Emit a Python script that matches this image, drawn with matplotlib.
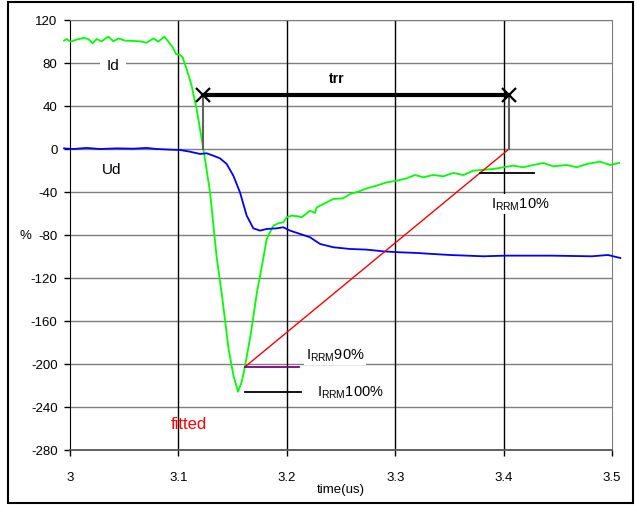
import matplotlib
matplotlib.use('Agg')
import matplotlib.pyplot as plt
from matplotlib.patches import Rectangle

plt.rcParams['font.family'] = ['Liberation Sans', 'DejaVu Sans']
plt.rcParams['mathtext.default'] = 'regular'
plt.rcParams['axes.unicode_minus'] = False

# Id trace (green)
id_t = [2.9945, 2.9969, 3.0006, 3.006, 3.0123, 3.0169, 3.0209, 3.0246, 3.0292, 3.0354,
        3.04, 3.0446, 3.0507, 3.0584, 3.0646, 3.0707, 3.0769, 3.0815, 3.087, 3.0907,
        3.0947, 3.0978, 3.1015, 3.1039, 3.1076, 3.1122, 3.1168, 3.1215, 3.1245, 3.1292,
        3.1353, 3.1406, 3.1463, 3.1508, 3.155, 3.1583, 3.1613, 3.167, 3.1725, 3.1783,
        3.1814, 3.1876, 3.1922, 3.1968, 3.1999, 3.2045, 3.2106, 3.2137, 3.2214, 3.226,
        3.2276, 3.2368, 3.2429, 3.2521, 3.2583, 3.266, 3.2737, 3.2829, 3.2921, 3.3014,
        3.3106, 3.3183, 3.3259, 3.3352, 3.3444, 3.3536, 3.3628, 3.372, 3.3813, 3.3905,
        3.3997, 3.4089, 3.4182, 3.4274, 3.4366, 3.4459, 3.4582, 3.4674, 3.4766, 3.4889,
        3.4982, 3.5065]
id_pct = [100.8, 102.3, 99.9, 101.7, 103.3, 102.3, 98.3, 102.3, 100.2, 104.5,
          100.2, 102.9, 100.8, 100.5, 100.2, 98.9, 102.9, 99.9, 104.5, 99.9,
          94.6, 88.4, 87.4, 85.3, 74.4, 58.9, 37.2, 9.3, -9.3, -40.3,
          -100.7, -139.5, -186, -210.9, -225.7, -217, -203, -170.5, -133, -102,
          -83.7, -71.3, -69.1, -68.2, -63.5, -62, -62.6, -63.5, -57.4, -59.5,
          -54.3, -49.6, -46.5, -45.9, -41.9, -39.7, -36.6, -34.1, -31, -29.5,
          -27.3, -24.2, -26.3, -24.2, -25.4, -22.3, -24.2, -20.2, -19.3, -18.6,
          -17, -15.5, -17, -14.9, -13, -16.1, -14.9, -17, -14, -11.8,
          -14.9, -13]

# Ud trace (blue)
ud_t = [2.9945, 3.0031, 3.0154, 3.0277, 3.043, 3.0584, 3.0707, 3.0799, 3.0922, 3.1015,
        3.1107, 3.1199, 3.126, 3.1322, 3.1384, 3.1445, 3.1507, 3.1568, 3.163, 3.1691,
        3.1753, 3.1814, 3.1906, 3.1968, 3.2029, 3.2122, 3.2214, 3.2306, 3.2429, 3.2583,
        3.2737, 3.289, 3.3044, 3.3198, 3.3352, 3.3506, 3.3659, 3.3813, 3.4022, 3.4437,
        3.4814, 3.4963, 3.5077]
ud_pct = [0.6, 0, 1, 0, 0.6, 0.3, 1, 0, -0.6, -0.9,
          -2.5, -4.6, -4, -6.2, -8.7, -13.9, -24.8, -40.3, -62, -73.8,
          -75.9, -74.4, -73.8, -72.8, -75.9, -79, -82.1, -88.3, -91.4, -93,
          -93.6, -95.2, -96.1, -96.7, -97.7, -98.6, -99.2, -99.8, -99.2, -99.2,
          -99.8, -98.6, -101.4]

# construction lines
fit_t = [3.161, 3.405]
fit_pct = [-203, 0]
trr_t = [3.123, 3.405]
trr_level = 50
irrm10_t = [3.378, 3.428]
irrm10_level = -22.3
irrm90_t = [3.161, 3.211]
irrm90_level = -203
irrm100_t = [3.161, 3.213]
irrm100_level = -226

x_ticks = [3, 3.1, 3.2, 3.3, 3.4, 3.5]
x_labels = ['3', '3.1', '3.2', '3.3', '3.4', '3.5']
y_ticks = list(range(-280, 121, 40))

fig = plt.figure(figsize=(6.37, 5.06), dpi=100)
ax = fig.add_axes([70 / 637, 1 - 451 / 506, 542 / 637, 430 / 506])

# outer frame around the whole chart
fig.patches.append(Rectangle((8 / 637, 2 / 506), 625 / 637, 501 / 506, transform=fig.transFigure,
                             fill=False, edgecolor='black', linewidth=1.5))

ax.set_xlim(3, 3.5)
ax.set_ylim(-280, 120)
for y in y_ticks:
    ax.axhline(y, color='#7f7f7f', lw=1, zorder=0)
for x in x_ticks[1:-1]:
    ax.axvline(x, color='black', lw=1, zorder=0)

ax.plot(id_t, id_pct, color='#00ff00', lw=1.3, clip_on=False, zorder=3)
ax.plot(ud_t, ud_pct, color='#0000ff', lw=1.3, clip_on=False, zorder=3)
ax.plot(fit_t, fit_pct, color='red', lw=1, zorder=4)

# trr arrow with the two drop lines
ax.plot([trr_t[0], trr_t[0]], [trr_level, 0], color='#606060', lw=1.5, zorder=4)
ax.plot([trr_t[1], trr_t[1]], [trr_level, 0], color='#606060', lw=1.5, zorder=4)
ax.plot(trr_t, [trr_level, trr_level], color='black', lw=3, zorder=5)
ax.plot(trr_t, [trr_level, trr_level], ls='none', marker='x', ms=10, mew=1.6, color='black', zorder=6)

ax.plot(irrm10_t, [irrm10_level] * 2, color='black', lw=1.3, zorder=4)
ax.plot(irrm90_t, [irrm90_level] * 2, color='#800080', lw=1.3, zorder=4)
ax.plot(irrm100_t, [irrm100_level] * 2, color='black', lw=1.3, zorder=4)

box = dict(facecolor='white', edgecolor='none', pad=1.5)
ax.text(3.0395, 78, 'Id', fontsize=11, ha='center', va='center', bbox=dict(facecolor='white', edgecolor='none', pad=5), zorder=2)
ax.text(3.038, -18.6, 'Ud', fontsize=11, ha='center', va='center', zorder=2)
ax.text(3.2463, 66, 'trr', fontsize=10, fontweight='bold', ha='center', va='center')
ax.text(3.415, -51, r'I$_{RRM}$10%', fontsize=10.5, ha='center', va='center', bbox=box, zorder=2)
ax.text(3.2445, -191.6, r'I$_{RRM}$90%', fontsize=10.5, ha='center', va='center', bbox=box, zorder=2)
ax.text(3.2283, -226.3, r'I$_{RRM}$100%', fontsize=10.5, ha='left', va='center', zorder=2)
ax.text(3.1096, -255.8, 'fitted', fontsize=12, color='red', ha='center', va='center')

ax.set_xticks(x_ticks, x_labels)
ax.set_yticks(y_ticks)
ax.tick_params(axis='both', labelsize=9.5, length=4, width=1, color='black')
ax.tick_params(axis='x', pad=11)
ax.tick_params(axis='y', pad=5)

for side in ['top', 'right']:
    ax.spines[side].set_color('#7f7f7f')
ax.spines['left'].set_color('black')
ax.spines['bottom'].set_color('#555555')
ax.spines['bottom'].set_linewidth(1.3)

ax.set_xlabel('time(us)', fontsize=9.5, labelpad=0)
fig.text(25 / 637, 1 - 236 / 506, '%', fontsize=9.5, ha='center', va='center')

fig.savefig('out.png', dpi=100)
